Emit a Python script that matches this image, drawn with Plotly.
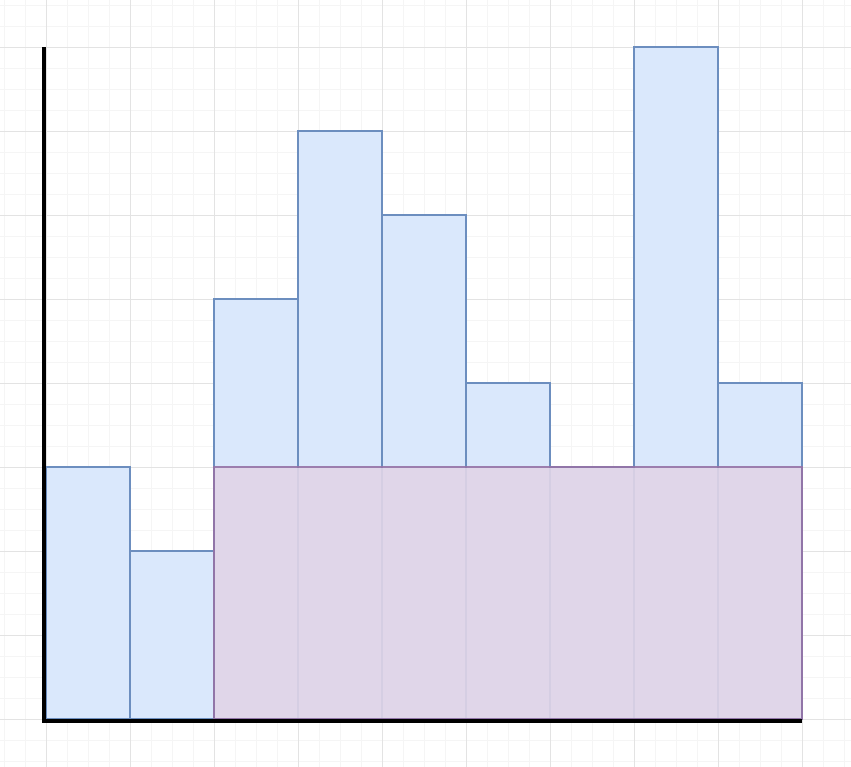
import plotly.graph_objects as go

# Data
categories = [0, 1, 2, 3, 4, 5, 6, 7, 8]
values = [3, 2, 5, 7, 6, 4, 3, 8, 4]
overlay_center = [5]
overlay_width = [7]
overlay_value = [3]

W, H = 851, 767
unit = 84.0
x_left_px = 46.0
base_px = 719.0

x0 = -0.5 - x_left_px / unit
x1 = x0 + W / unit
y1 = base_px / unit
y0 = y1 - H / unit

fig = go.Figure()
fig.add_trace(go.Bar(
    x=categories, y=values, width=1,
    marker=dict(color="#dae8fc", line=dict(color="#6c8ebf", width=2)),
    showlegend=False, hoverinfo="skip",
))
fig.add_trace(go.Bar(
    x=overlay_center, y=overlay_value, width=overlay_width,
    marker=dict(color="#e1d5e7", line=dict(color="#9673a6", width=2)),
    opacity=0.9, showlegend=False, hoverinfo="skip",
))

px = 1.0 / unit
fig.add_shape(type="line", xref="x", yref="y",
              x0=-0.5 - 2 * px, x1=-0.5 - 2 * px, y0=-4 * px, y1=max(values),
              line=dict(color="#000000", width=4))
fig.add_shape(type="line", xref="x", yref="y",
              x0=-0.5 - 4 * px, x1=len(categories) - 0.5, y0=-2 * px, y1=-2 * px,
              line=dict(color="#000000", width=4))

fig.update_layout(
    width=W, height=H,
    margin=dict(l=0, r=0, t=0, b=0),
    paper_bgcolor="white", plot_bgcolor="white",
    barmode="overlay", bargap=0,
    xaxis=dict(range=[x0, x1], tick0=-0.5, dtick=1, showticklabels=False,
               showgrid=True, gridcolor="#e3e3e3", gridwidth=1, zeroline=False,
               showline=False, ticks="",
               minor=dict(dtick=0.25, tick0=-0.5, showgrid=True, gridcolor="#f5f5f5", gridwidth=1)),
    yaxis=dict(range=[y0, y1], tick0=0, dtick=1, showticklabels=False,
               showgrid=True, gridcolor="#e3e3e3", gridwidth=1, zeroline=False,
               showline=False, ticks="",
               minor=dict(dtick=0.25, tick0=0, showgrid=True, gridcolor="#f5f5f5", gridwidth=1)),
)

fig.write_html("out.html", config={"staticPlot": True},
               post_script="document.body.style.margin='0';document.body.style.overflow='hidden';")
